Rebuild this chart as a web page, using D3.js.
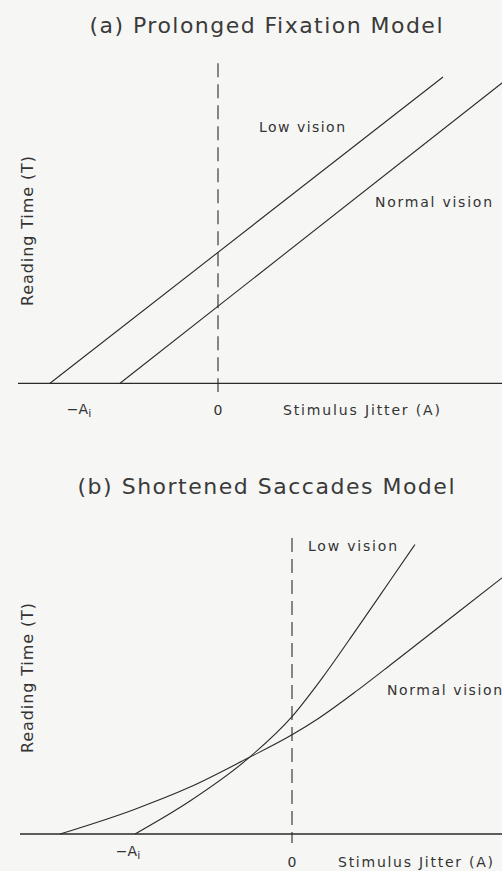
<!DOCTYPE html>
<html>
<head>
<meta charset="utf-8">
<script src="https://cdn.jsdelivr.net/npm/d3@7"></script>
<style>
  html, body { margin: 0; padding: 0; background: #f6f6f5; }
  svg { display: block; }
  text { font-family: "DejaVu Sans", sans-serif; fill: #333; }
</style>
</head>
<body>
<svg id="chart" width="502" height="871"></svg>
<script>
// ---------------- data ----------------
const panelTitles = ["(a) Prolonged Fixation Model", "(b) Shortened Saccades Model"];
const yAxisLabel = "Reading Time (T)";
const xAxisLabel = "Stimulus Jitter (A)";
const seriesNames = ["Low vision", "Normal vision"];

// Panel (a): x = stimulus jitter (arbitrary units), y = reading time (arbitrary units)
const aLowX = [-1.68, 2.25];
const aLowY = [0, 3.063];
const aNormalX = [-0.98, 2.84];
const aNormalY = [0, 3.003];
const aTickValues = [-1.39, 0];

// Panel (b)
const bLowX = [-1.57, -1.02, -0.45, 0, 0.31, 0.65, 0.98, 1.23];
const bLowY = [0, 0.33, 0.746, 1.174, 1.571, 2.054, 2.532, 2.895];
const bNormalX = [-2.32, -1.59, -1.02, -0.45, 0, 0.26, 0.65, 0.98, 1.31, 1.65, 2.10];
const bNormalY = [0, 0.241, 0.469, 0.754, 0.992, 1.153, 1.434, 1.688, 1.945, 2.21, 2.561];
const bTickValues = [-1.64, 0];

// ---------------- layout ----------------
const svg = d3.select("#chart");

const panels = [
  {
    title: panelTitles[0], titleY: 33, titleW: 353,
    xDomain: [-2.0, 2.84], xRange: [18, 502],
    yDomain: [0, 3.2], yRange: [383.3, 63.3],
    dashBottom: 392,
    low: aLowX.map((x, i) => [x, aLowY[i]]),
    normal: aNormalX.map((x, i) => [x, aNormalY[i]]),
    curve: d3.curveLinear,
    ticks: aTickValues, tickBase: [414, 415],
    xLabel: { x: 283, y: 415, w: 157 },
    lowLabel: { x: 259, y: 132, w: 86 },
    normalLabel: { x: 375, y: 207, w: 117 },
    yLabelCenter: 231
  },
  {
    title: panelTitles[1], titleY: 494, titleW: 377,
    xDomain: [-2.72, 2.10], xRange: [20, 502],
    yDomain: [0, 2.96], yRange: [834, 538],
    dashBottom: 843,
    low: bLowX.map((x, i) => [x, bLowY[i]]),
    normal: bNormalX.map((x, i) => [x, bNormalY[i]]),
    curve: d3.curveMonotoneX,
    ticks: bTickValues, tickBase: [856, 867],
    xLabel: { x: 338, y: 867, w: 155 },
    lowLabel: { x: 308, y: 551, w: 89 },
    normalLabel: { x: 387, y: 695, w: 115 },
    yLabelCenter: 678
  }
];

panels.forEach(p => {
  const g = svg.append("g");
  const x = d3.scaleLinear().domain(p.xDomain).range(p.xRange);
  const y = d3.scaleLinear().domain(p.yDomain).range(p.yRange);

  // title
  g.append("text")
    .attr("x", 266).attr("y", p.titleY)
    .attr("text-anchor", "middle")
    .attr("font-size", 22)
    .attr("textLength", p.titleW).attr("lengthAdjust", "spacing")
    .style("fill", "#3a3a3a")
    .text(p.title);

  // x axis line (baseline T = 0)
  g.append("line")
    .attr("x1", x.range()[0]).attr("x2", x.range()[1])
    .attr("y1", y(0)).attr("y2", y(0))
    .attr("stroke", "#2a2a2a").attr("stroke-width", 1.3);

  // dashed line at A = 0
  g.append("line")
    .attr("x1", x(0)).attr("x2", x(0))
    .attr("y1", y.range()[1]).attr("y2", p.dashBottom)
    .attr("stroke", "#2a2a2a").attr("stroke-width", 1.1)
    .attr("stroke-dasharray", "14,7");

  // curves
  const line = d3.line().x(d => x(d[0])).y(d => y(d[1])).curve(p.curve);
  [p.low, p.normal].forEach(s => {
    g.append("path")
      .attr("d", line(s))
      .attr("fill", "none")
      .attr("stroke", "#2a2a2a")
      .attr("stroke-width", 1.1);
  });

  // tick labels: −A_i and 0
  const t1 = g.append("text")
    .attr("x", x(p.ticks[0])).attr("y", p.tickBase[0])
    .attr("text-anchor", "middle")
    .attr("font-size", 14);
  t1.append("tspan").text("\u2212A");
  t1.append("tspan").attr("font-size", 11).attr("dy", 3).text("i");

  g.append("text")
    .attr("x", x(p.ticks[1])).attr("y", p.tickBase[1])
    .attr("text-anchor", "middle")
    .attr("font-size", 14)
    .text("0");

  // x axis title
  g.append("text")
    .attr("x", p.xLabel.x).attr("y", p.xLabel.y)
    .attr("font-size", 14)
    .attr("textLength", p.xLabel.w).attr("lengthAdjust", "spacing")
    .text(xAxisLabel);

  // series labels
  g.append("text")
    .attr("x", p.lowLabel.x).attr("y", p.lowLabel.y)
    .attr("font-size", 14)
    .attr("textLength", p.lowLabel.w).attr("lengthAdjust", "spacing")
    .text(seriesNames[0]);
  g.append("text")
    .attr("x", p.normalLabel.x).attr("y", p.normalLabel.y)
    .attr("font-size", 14)
    .attr("textLength", p.normalLabel.w).attr("lengthAdjust", "spacing")
    .text(seriesNames[1]);

  // y axis title
  g.append("text")
    .attr("transform", `translate(33,${p.yLabelCenter}) rotate(-90)`)
    .attr("text-anchor", "middle")
    .attr("font-size", 16)
    .attr("textLength", 150).attr("lengthAdjust", "spacing")
    .text(yAxisLabel);
});
</script>
</body>
</html>
